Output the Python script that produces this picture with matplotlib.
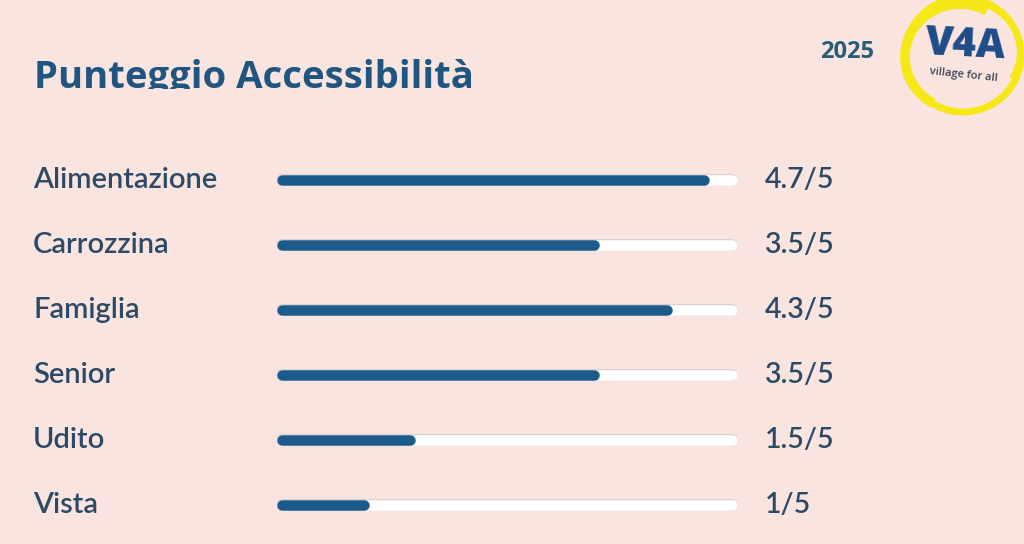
import matplotlib
matplotlib.use("Agg")
import matplotlib.pyplot as plt
from matplotlib.patches import Arc

categories = ["Alimentazione", "Carrozzina", "Famiglia", "Senior", "Udito", "Vista"]
scores = [4.7, 3.5, 4.3, 3.5, 1.5, 1]
score_labels = ["4.7/5", "3.5/5", "4.3/5", "3.5/5", "1.5/5", "1/5"]
max_score = 5
title = "Punteggio Accessibilità"
year = "2025"

W, H, DPI = 1024, 544, 100
BG = "#F9E4DF"
BAR = "#1B5A8A"
TXT = "#2C4A66"
TITLE_C = "#1F5580"

fig = plt.figure(figsize=(W / DPI, H / DPI), dpi=DPI, facecolor=BG)

# overlay axes in pixel coordinates
ov = fig.add_axes([0, 0, 1, 1])
ov.set_xlim(0, W)
ov.set_ylim(H, 0)
ov.axis("off")
ov.patch.set_alpha(0)

# bar axes
left, right, top, bottom = 277, 737, 147.5, 537.5
ax = fig.add_axes([left / W, 1 - bottom / H, (right - left) / W, (bottom - top) / H])
ax.set_xlim(0, max_score)
ax.set_ylim(len(categories) - 0.5, -0.5)
ax.axis("off")
ax.patch.set_alpha(0)

px_to_pt = 72 / DPI
bar_px = 10.5
r = (bar_px / 2) * max_score / (right - left)
y = list(range(len(categories)))

ax.hlines(y, r, max_score - r, color="#D9D2D0", lw=(bar_px + 1.5) * px_to_pt, capstyle="round")
ax.hlines(y, r, max_score - r, color="white", lw=bar_px * px_to_pt, capstyle="round")
ax.hlines(y, r, [s - r for s in scores], color=BAR, lw=bar_px * px_to_pt, capstyle="round")

for i, (c, lab) in enumerate(zip(categories, score_labels)):
    ax.annotate(c, xy=(33 / W, i), xycoords=("figure fraction", "data"),
                ha="left", va="center", fontsize=21, fontweight="semibold", color=TXT,
                family="Lato")
    ax.annotate(lab, xy=(765 / W, i), xycoords=("figure fraction", "data"),
                ha="left", va="center", fontsize=20.5, fontweight="semibold", color=TXT,
                family="Lato")

# title (clipped at bottom like the reference)
t = ov.text(34, 78, title, ha="left", va="center", fontsize=27.5, fontweight="bold",
            color=TITLE_C, family="Open Sans")
tax = fig.add_axes([0, 1 - 89 / H, 0.6, 89 / H])
tax.axis("off")
t.set_clip_box(tax.bbox)
t.set_clip_on(True)

ov.text(847, 52, year, ha="center", va="center", fontsize=17, fontweight="bold",
        color="#2B5B7C", family="Open Sans")

# logo
YEL = "#F6E716"
ov.add_patch(Arc((963, 55), 116, 114, angle=0, theta1=0, theta2=360, color=YEL, lw=5))
ov.add_patch(Arc((960, 57), 110, 106, angle=0, theta1=120, theta2=300, color=YEL, lw=7))
ov.add_patch(Arc((966, 52), 106, 100, angle=0, theta1=290, theta2=30, color=YEL, lw=3))
ov.text(965, 46, "V4A", ha="center", va="center", fontsize=29, fontweight="heavy",
        color="#1E4C8A", family="Open Sans", rotation=-3)
ov.text(964, 75, "village for all", ha="center", va="center", fontsize=8,
        fontweight="semibold", color="#3A4654", family="Open Sans", rotation=-6)

fig.savefig("out.png", dpi=DPI, facecolor=BG)
